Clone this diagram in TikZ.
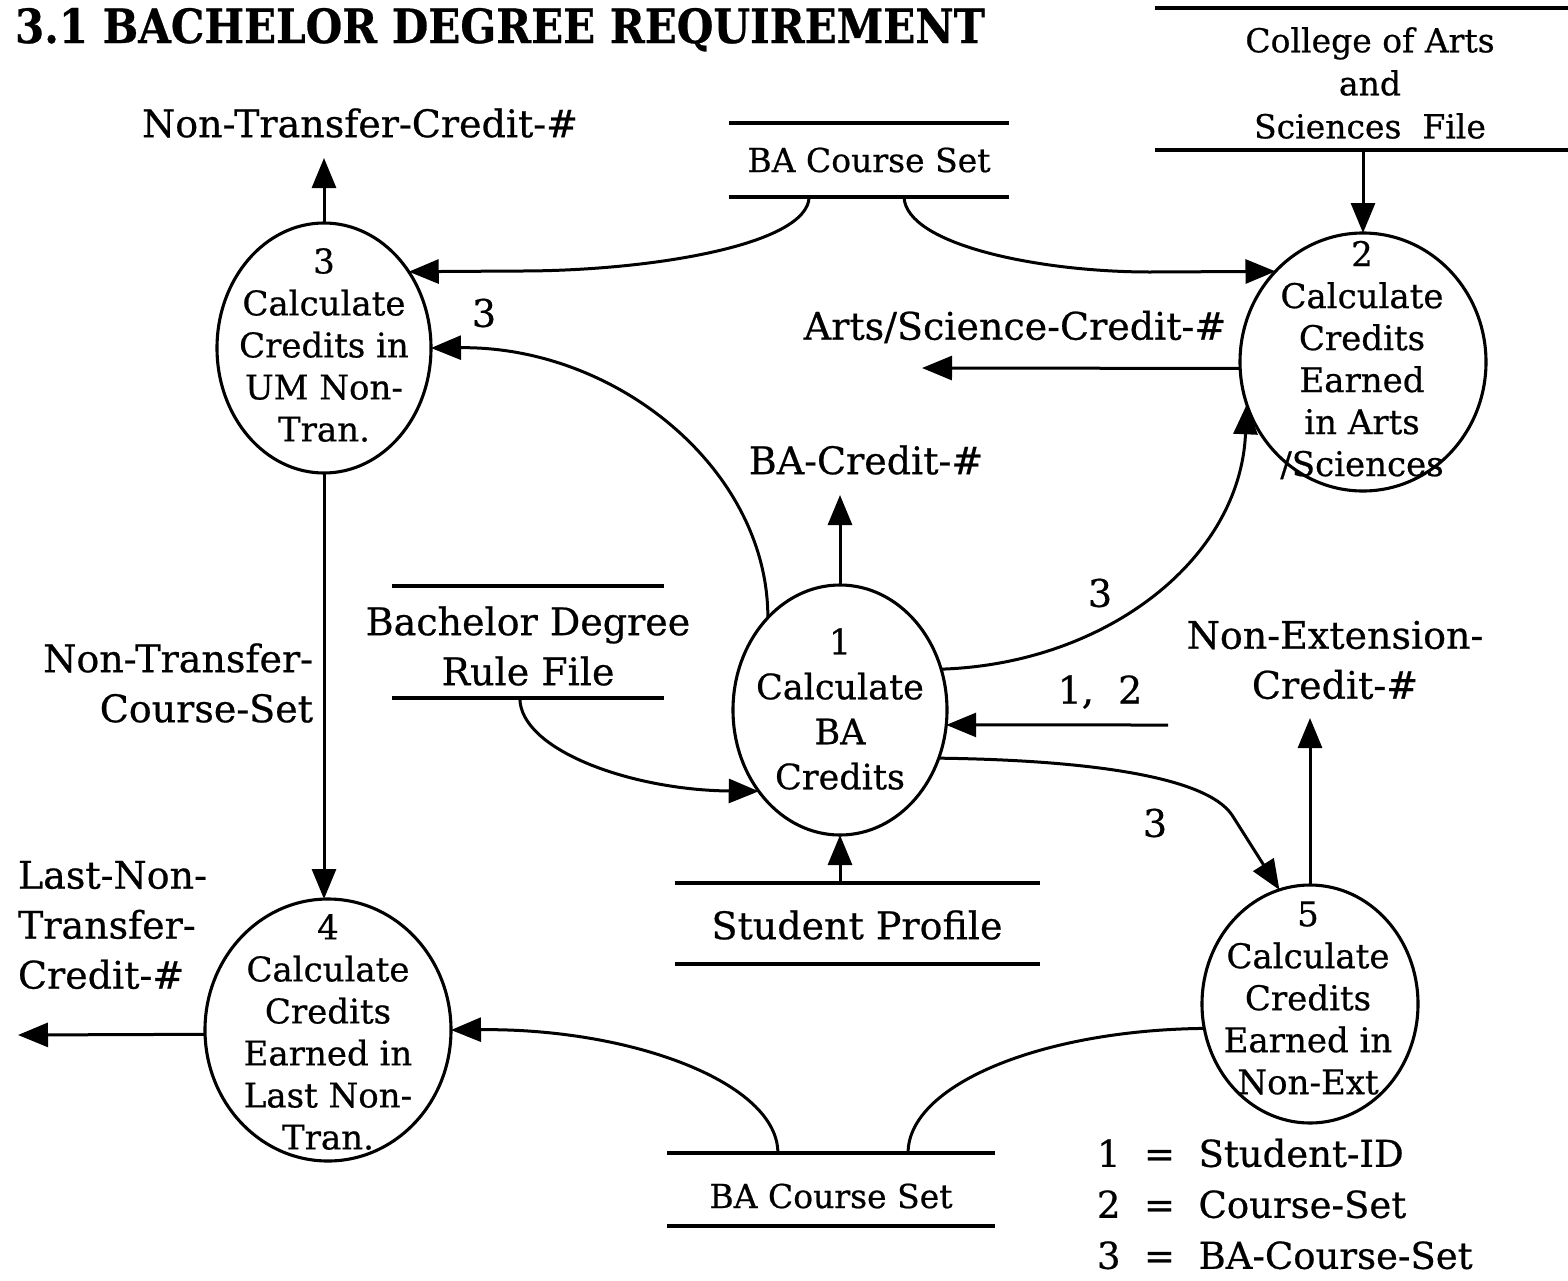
\documentclass[tikz,border=0pt]{standalone}
\usepackage{graphicx}
\usepackage{fontspec}
\setmainfont{DejaVu Serif}[FakeBold=0.6]
\usetikzlibrary{arrows.meta,shapes.geometric,calc}

\begin{document}
\begin{tikzpicture}[x=1pt,y=-1pt,
  every node/.style={inner sep=0pt, outer sep=0pt},
  proc/.style={ellipse, draw, line width=3.1pt},
  ptext/.style={align=center, font=\fontsize{34}{42}\selectfont},
  store/.style={rectangle, draw=none},
  stext/.style={align=center, font=\fontsize{33}{43}\selectfont},
  storeline/.style={line width=3.1pt},
  flow/.style={line width=3pt, -{Triangle[length=30pt,width=24pt]}},
  plainflow/.style={line width=3pt},
  lbl/.style={align=center, font=\fontsize{38}{50}\selectfont},
]
\useasboundingbox (0,0) rectangle (1568,1280);
\fill[white] (0,0) rectangle (1568,1280);

% title
\node[anchor=base west] (title) at (15,43)
  {\resizebox{970pt}{35pt}{\bfseries 3.1 BACHELOR DEGREE REQUIREMENT}};

% processes
\node[proc, minimum width=214pt, minimum height=250pt] (p3) at (324,348) {};
\node[ptext] (p3t) at (324,345) {3\\Calculate\\Credits in\\UM Non-\\Tran.};

\node[proc, minimum width=246pt, minimum height=258pt] (p2) at (1363,362) {};
\node[ptext] (p2t) at (1362,360) {2\\Calculate\\Credits\\Earned\\in Arts\\/Sciences};

\node[proc, minimum width=214pt, minimum height=250pt] (p1) at (840,710) {};
\node[ptext, font=\fontsize{35}{45}\selectfont] (p1t) at (840,709) {1\\Calculate\\BA\\Credits};

\node[proc, minimum width=216pt, minimum height=238pt] (p5) at (1310,1004) {};
\node[ptext] (p5t) at (1308,998) {5\\Calculate\\Credits\\Earned in\\Non-Ext};

\node[proc, minimum width=246pt, minimum height=262pt] (p4) at (328,1030) {};
\node[ptext] (p4t) at (328,1032) {4\\Calculate\\Credits\\Earned in\\Last Non-\\Tran.};

% data stores
\node[store, minimum width=280pt, minimum height=74pt] (dsTop) at (869,160) {};
\node[stext] (dsTopt) at (869,160) {BA Course Set};
\node[store, minimum width=414pt, minimum height=142pt] (dsCol) at (1362,79) {};
\node[stext] (dsColt) at (1370,83) {College of Arts\\and\\Sciences\ \ File};
\node[store, minimum width=272pt, minimum height=112pt] (dsRule) at (528,642) {};
\node[lbl] (dsRulet) at (528,646) {Bachelor Degree\\Rule File};
\node[store, minimum width=365pt, minimum height=81pt] (dsStu) at (857,923.5) {};
\node[lbl] (dsStut) at (857,925) {Student Profile};
\node[store, minimum width=328pt, minimum height=73pt] (dsBot) at (831,1189.5) {};
\node[stext] (dsBott) at (831,1196) {BA Course Set};

\foreach \s in {dsTop,dsCol,dsRule,dsStu,dsBot}
  \draw[storeline] (\s.north west) -- (\s.north east) (\s.south west) -- (\s.south east);

% outputs and inputs
\coordinate (oNT) at (324,158);
\draw[flow] (p3.north) -- (oNT);
\node[lbl] (tNT) at (360,123) {Non-Transfer-Credit-\#};

\coordinate (oAS) at (922,368);
\draw[flow] (p2.183) -- (oAS);
\node[lbl] (tAS) at (1015,327) {Arts/Science-Credit-\#};

\coordinate (oBA) at (840,495);
\draw[flow] (p1.north) -- (oBA);
\node[lbl] (tBA) at (866,460) {BA-Credit-\#};

\coordinate (i12) at (1168,725);
\draw[flow] (i12) -- (p1.-8);
\node[lbl] (t12) at (1100,692) {1, \ 2};

\coordinate (oNE) at (1310,718);
\draw[flow] (p5.north) -- (oNE);
\node[lbl] (tNE) at (1335,660) {Non-Extension-\\Credit-\#};

\coordinate (oLN) at (18,1035);
\draw[flow] (p4.182) -- (oLN);
\node[lbl, align=left, anchor=west] (tLN) at (18,925) {Last-Non-\\Transfer-\\Credit-\#};

% flows between stores and processes
\draw[flow] ($(dsTop.south west)!0.286!(dsTop.south east)$)
  .. controls (808,245) and (650,271) .. (520,271) -- (p3.42);
\draw[flow] ($(dsTop.south west)!0.625!(dsTop.south east)$)
  .. controls (906,245) and (1040,272) .. (1150,272) -- (p2.134);
\draw[flow] (dsCol.south -| p2.north) -- (p2.north);

\draw[flow] (p1.128) .. controls (768,470) and (617,346) .. (p3.east);
\node[lbl] (t3a) at (484,313) {3};

\draw[flow] (p1.22) .. controls (1105,664) and (1240,560) .. (p2.200);
\node[lbl] (t3b) at (1100,593) {3};

\draw[flow] (p1.-26) .. controls (1080,760) and (1205,775) .. (1232,815) -- (p5.105);
\node[lbl] (t3c) at (1155,823) {3};

\draw[flow] ($(dsRule.south west)!0.47!(dsRule.south east)$)
  .. controls (520,750) and (631,790) .. (p1.225);
\draw[flow] (dsStu.north -| p1.south) -- (p1.south);

\draw[flow] (p3.south) -- (p3.south |- p4.north);
\node[lbl, align=right, anchor=east] (tNTC) at (313,683) {Non-Transfer-\\Course-Set};

\draw[flow] ($(dsBot.north west)!0.338!(dsBot.north east)$)
  .. controls (778,1083) and (632,1028) .. (p4.east);
\draw[plainflow] ($(dsBot.north west)!0.735!(dsBot.north east)$)
  .. controls (908,1085) and (1041,1030) .. (p5.193);

% legend
\node[lbl, align=left, anchor=west, font=\fontsize{37}{51}\selectfont] (legend) at (1097,1204)
  {1 \ = \ Student-ID\\2 \ = \ Course-Set\\3 \ = \ BA-Course-Set};
\end{tikzpicture}
\end{document}
